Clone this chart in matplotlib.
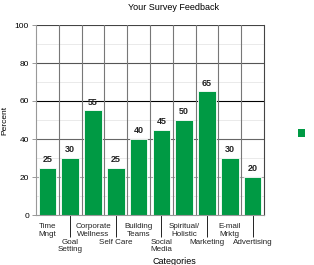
import matplotlib
matplotlib.use('Agg')
import matplotlib.pyplot as plt
import numpy as np

plt.rcParams['font.family'] = ['Liberation Sans', 'DejaVu Sans']

categories = ['Time\nMngt', 'Goal\nSetting', 'Corporate\nWellness', 'Self Care',
              'Building\nTeams', 'Social\nMedia', 'Spiritual/\nHolistic', 'Marketing',
              'E-mail\nMrktg', 'Advertising']
values = [25, 30, 55, 25, 40, 45, 50, 65, 30, 20]
yticks = [0, 20, 40, 60, 80, 100]

GREEN = '#009a44'

fig = plt.figure(figsize=(3.14, 2.65), dpi=100)
ax = fig.add_axes([36/314, 50/265, 228/314, 190/265])

x = np.arange(len(categories))

# grid: minor horizontals, major horizontals, verticals at category edges
for y in range(10, 100, 20):
    ax.axhline(y, color='#e6e6e6', lw=0.6, zorder=0)
for y, c in zip([20, 40, 60, 80, 100], ['#aaaaaa', '#666666', '#000000', '#555555', '#444444']):
    ax.axhline(y, color=c, lw=0.8, zorder=0.5)
for i in range(1, len(categories)):
    ax.axvline(i - 0.5, color='#777777', lw=0.8, zorder=0.5)

bars = ax.bar(x, values, width=0.78, color=GREEN, edgecolor='white', lw=0.6, zorder=2)
for xi, v in zip(x, values):
    ax.text(xi, v + 2, str(v), ha='center', va='bottom', fontsize=6.5,
            fontweight='bold', color='#222222')

ax.set_xlim(-0.5, len(categories) - 0.5)
ax.set_ylim(0, 100)
ax.set_yticks(yticks)
ax.tick_params(axis='y', labelsize=6, length=3, width=0.6, color='#888888', pad=2)

# staggered category labels
ax.set_xticks(x[0::2])
ax.set_xticklabels(categories[0::2])
ax.set_xticks(x[1::2], minor=True)
ax.set_xticklabels(categories[1::2], minor=True)
ax.tick_params(axis='x', which='major', labelsize=5.8, length=0, pad=6, labelcolor='#222222')
ax.tick_params(axis='x', which='minor', labelsize=5.8, length=16, width=0.7,
               color='#222222', pad=1, labelcolor='#222222')
for lbl in ax.get_xticklabels(which='both'):
    lbl.set_linespacing(1.05)

for s in ['left', 'bottom']:
    ax.spines[s].set_color('#999999')
    ax.spines[s].set_linewidth(0.8)
ax.spines['right'].set_color('#444444')
ax.spines['top'].set_visible(False)

ax.set_ylabel('Percent', fontsize=6)
ax.yaxis.set_label_coords(-28/228, 0.5)
fig.text(174/314, 1 - 261/265, 'Categories', ha='center', va='center', fontsize=6.5)
fig.text(174/314, 1 - 8/265, 'Your Survey Feedback', ha='center', va='center', fontsize=6.5)

# legend marker with no text
fig.patches.append(plt.Rectangle((298/314, 1 - 137/265), 7/314, 8/265,
                                 transform=fig.transFigure, facecolor=GREEN, edgecolor='none'))

fig.savefig('out.png', dpi=100)
